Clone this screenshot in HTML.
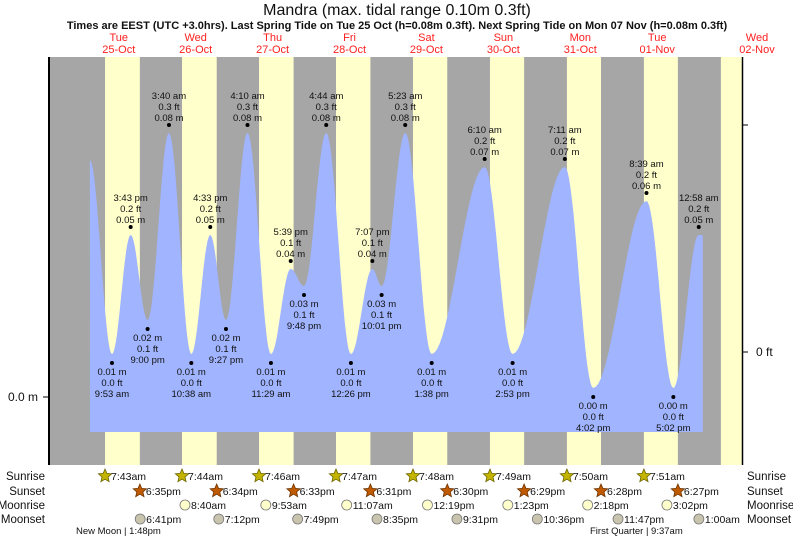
<!DOCTYPE html>
<html><head><meta charset="utf-8"><style>
body{margin:0;background:#fff}
svg{display:block;font-family:"Liberation Sans",sans-serif}
</style></head><body>
<svg id="c" width="793" height="539" viewBox="0 0 793 539">
<g id="bg"></g><g id="tide"></g><g id="labels"></g><g id="axes"></g><g id="rows"></g>
</svg>
<script>
// Data (hours since Tue 25-Oct 00:00)
const dayNames = ["Tue","Wed","Thu","Fri","Sat","Sun","Mon","Tue","Wed"];
const dayDates = ["25-Oct","26-Oct","27-Oct","28-Oct","29-Oct","30-Oct","31-Oct","01-Nov","02-Nov"];
const sunrise = ["7:43am","7:44am","7:46am","7:47am","7:48am","7:49am","7:50am","7:51am","7:52am"];
const sunset = ["6:35pm","6:34pm","6:33pm","6:31pm","6:30pm","6:29pm","6:28pm","6:27pm","6:26pm"];
const moonriseDay = [1,2,3,4,5,6,7];
const moonrise = ["8:40am","9:53am","11:07am","12:19pm","1:23pm","2:18pm","3:02pm"];
const moonsetDay = [0,1,2,3,4,5,6,8];
const moonset = ["6:41pm","7:12pm","7:49pm","8:35pm","9:31pm","10:36pm","11:47pm","1:00am"];
const tideDay = [0,0,0,1,1,1,1,2,2,2,2,3,3,3,3,4,4,5,5,6,6,7,7,8];
const tideTime = ["9:53 am","3:43 pm","9:00 pm","3:40 am","10:38 am","4:33 pm","9:27 pm","4:10 am","11:29 am","5:39 pm","9:48 pm","4:44 am","12:26 pm","7:07 pm","10:01 pm","5:23 am","1:38 pm","6:10 am","2:53 pm","7:11 am","4:02 pm","8:39 am","5:02 pm","12:58 am"];
const tideHeight = [0.01,0.05,0.02,0.08,0.01,0.05,0.02,0.08,0.01,0.04,0.03,0.08,0.01,0.04,0.03,0.08,0.01,0.07,0.01,0.07,0.00,0.06,0.00,0.05];
const startHour = 3.0, startHeight = 0.072;

const NS="http://www.w3.org/2000/svg";
const X0=50,X1=742,Y0=57,Y1=465;
const xOf=h=>80.3+h*3.205;
const yOf=m=>397-m*3400;
function hrs(s){const m=s.match(/(\d+):(\d+)\s*(am|pm)/);let h=+m[1]%12;if(m[3]=="pm")h+=12;return h+ +m[2]/60;}
function mk(p,tag,at,txt){const e=document.createElementNS(NS,tag);for(const k in at)e.setAttribute(k,at[k]);if(txt!=null)e.textContent=txt;p.appendChild(e);return e;}
const bg=document.getElementById('bg'),tide=document.getElementById('tide'),lab=document.getElementById('labels'),ax=document.getElementById('axes'),rows=document.getElementById('rows');

let t=mk(lab,'text',{x:397,y:15,'text-anchor':'middle','font-size':16,fill:'#111'},"Mandra (max. tidal range 0.10m 0.3ft)");


t=mk(lab,'text',{x:397,y:29,'text-anchor':'middle','font-size':11,'font-weight':'bold',fill:'#111'},"Times are EEST (UTC +3.0hrs). Last Spring Tide on Tue 25 Oct (h=0.08m 0.3ft). Next Spring Tide on Mon 07 Nov (h=0.08m 0.3ft)");



let r=mk(bg,'rect',{x:X0,y:Y0,width:X1-X0,height:Y1-Y0,fill:'#a6a6a6'});


for(let d=0;d<dayNames.length;d++){
  const a=Math.max(X0,xOf(d*24+hrs(sunrise[d]))),b=Math.min(X1,xOf(d*24+hrs(sunset[d])));
  if(b>a){r=mk(bg,'rect',{x:a,y:Y0,width:b-a,height:Y1-Y0,fill:'#ffffcc'});
  
  }
  let cx=d==dayNames.length-1?757:xOf(d*24+12);
  let g=mk(lab,'text',{x:cx,y:41,'text-anchor':'middle','font-size':11,fill:'#ff2020'},dayNames[d]);
  
  
  g=mk(lab,'text',{x:cx,y:53,'text-anchor':'middle','font-size':11,fill:'#ff2020'},dayDates[d]);
  
  
}
r=mk(bg,'rect',{x:X1+1,y:56,width:60,height:414,fill:'#fff'});

const pts=[[startHour,startHeight,1]];
for(let i=0;i<tideTime.length;i++){const h=tideDay[i]*24+hrs(tideTime[i]);const v=tideHeight[i];
  const prev=i>0?tideHeight[i-1]:startHeight;pts.push([h,v,v>prev?1:-1]);}
const cy=p=>yOf(p[1])+(p[2]>0?8:-9);
let d="M"+xOf(pts[0][0])+",432";
for(let i=0;i<pts.length-1;i++){const a=pts[i],b=pts[i+1];
  for(let s=0;s<=20;s++){const f=s/20,w=(1-Math.cos(Math.PI*f))/2;
    d+=" L"+xOf(a[0]+(b[0]-a[0])*f).toFixed(1)+","+(cy(a)+(cy(b)-cy(a))*w).toFixed(1);}}
const last=pts[pts.length-1];
d+=" L"+(xOf(last[0])+4)+","+cy(last)+" L"+(xOf(last[0])+4)+",432 Z";
r=mk(tide,'path',{d:d,fill:'#a0b4ff'});



for(let i=1;i<pts.length;i++){const p=pts[i],x=xOf(p[0]),y=yOf(p[1]),idx=i-1;
  const ft=(p[1]*3.2808).toFixed(1)+" ft",m=p[1].toFixed(2)+" m";
  let c=mk(lab,'circle',{cx:x,cy:y,r:2,fill:'#000'});
  
  
  const lines=p[2]>0?[[tideTime[idx],y-26],[ft,y-15],[m,y-4]]:[[m,y+12],[ft,y+23],[tideTime[idx],y+34]];
  for(const L of lines){let e=mk(lab,'text',{x:x,y:L[1],'text-anchor':'middle','font-size':9.5,fill:'#111'},L[0]);
    
    }
}

mk(ax,'line',{x1:49,y1:Y0,x2:49,y2:Y1,stroke:'#000','stroke-width':2});
mk(ax,'line',{x1:43,y1:397,x2:49,y2:397,stroke:'#000'});
t=mk(ax,'text',{x:38,y:401,'text-anchor':'end','font-size':12,fill:'#111'},"0.0 m");


mk(ax,'line',{x1:742.5,y1:Y0,x2:742.5,y2:Y1,stroke:'#000','stroke-width':1.5});
mk(ax,'line',{x1:742,y1:125,x2:748,y2:125,stroke:'#000'});
mk(ax,'line',{x1:742,y1:352,x2:748,y2:352,stroke:'#000'});
t=mk(ax,'text',{x:756,y:356,'font-size':12,fill:'#111'},"0 ft");



const rowY=[476,491,505,519],rowN=["Sunrise","Sunset","Moonrise","Moonset"];
rowN.forEach((n,i)=>{let e=mk(rows,'text',{x:45,y:rowY[i]+4,'text-anchor':'end','font-size':11.5,fill:'#111'},n);
  
  
  e=mk(rows,'text',{x:747,y:rowY[i]+4,'font-size':11.5,fill:'#111'},n);
  
  });
function star(x,y,fill,stroke){let p="";for(let k=0;k<10;k++){const a=-Math.PI/2+k*Math.PI/5,rr=k%2?3.2:7;p+=(x+rr*Math.cos(a)).toFixed(1)+","+(y+rr*Math.sin(a)).toFixed(1)+" ";}
  return mk(rows,'polygon',{points:p,fill:fill,stroke:stroke,'stroke-width':0.8});}
function item(x,y,type,txt){let ic;
  if(type==0)ic=star(x,y,'#c2b400','#6b6400');else if(type==1)ic=star(x,y,'#c05a00','#6b3300');
  else ic=mk(rows,'circle',{cx:x,cy:y,r:5,fill:type==2?'#ffffcc':'#c8c4ae',stroke:'#777','stroke-width':0.8});
  
  
  let e=mk(rows,'text',{x:x+6,y:y+4,'font-size':10.5,fill:'#111'},txt);
  
  }
for(let d=0;d<8;d++){item(xOf(d*24+hrs(sunrise[d])),rowY[0],0,sunrise[d]);item(xOf(d*24+hrs(sunset[d])),rowY[1],1,sunset[d]);}
moonrise.forEach((m,i)=>item(xOf(moonriseDay[i]*24+hrs(m)),rowY[2],2,m));
moonset.forEach((m,i)=>item(xOf(moonsetDay[i]*24+hrs(m)),rowY[3],3,m));
t=mk(rows,'text',{x:76,y:534,'font-size':9.5,fill:'#111'},"New Moon | 1:48pm");


t=mk(rows,'text',{x:590,y:534,'font-size':9.5,fill:'#111'},"First Quarter | 9:37am");


</script>
</body></html>
